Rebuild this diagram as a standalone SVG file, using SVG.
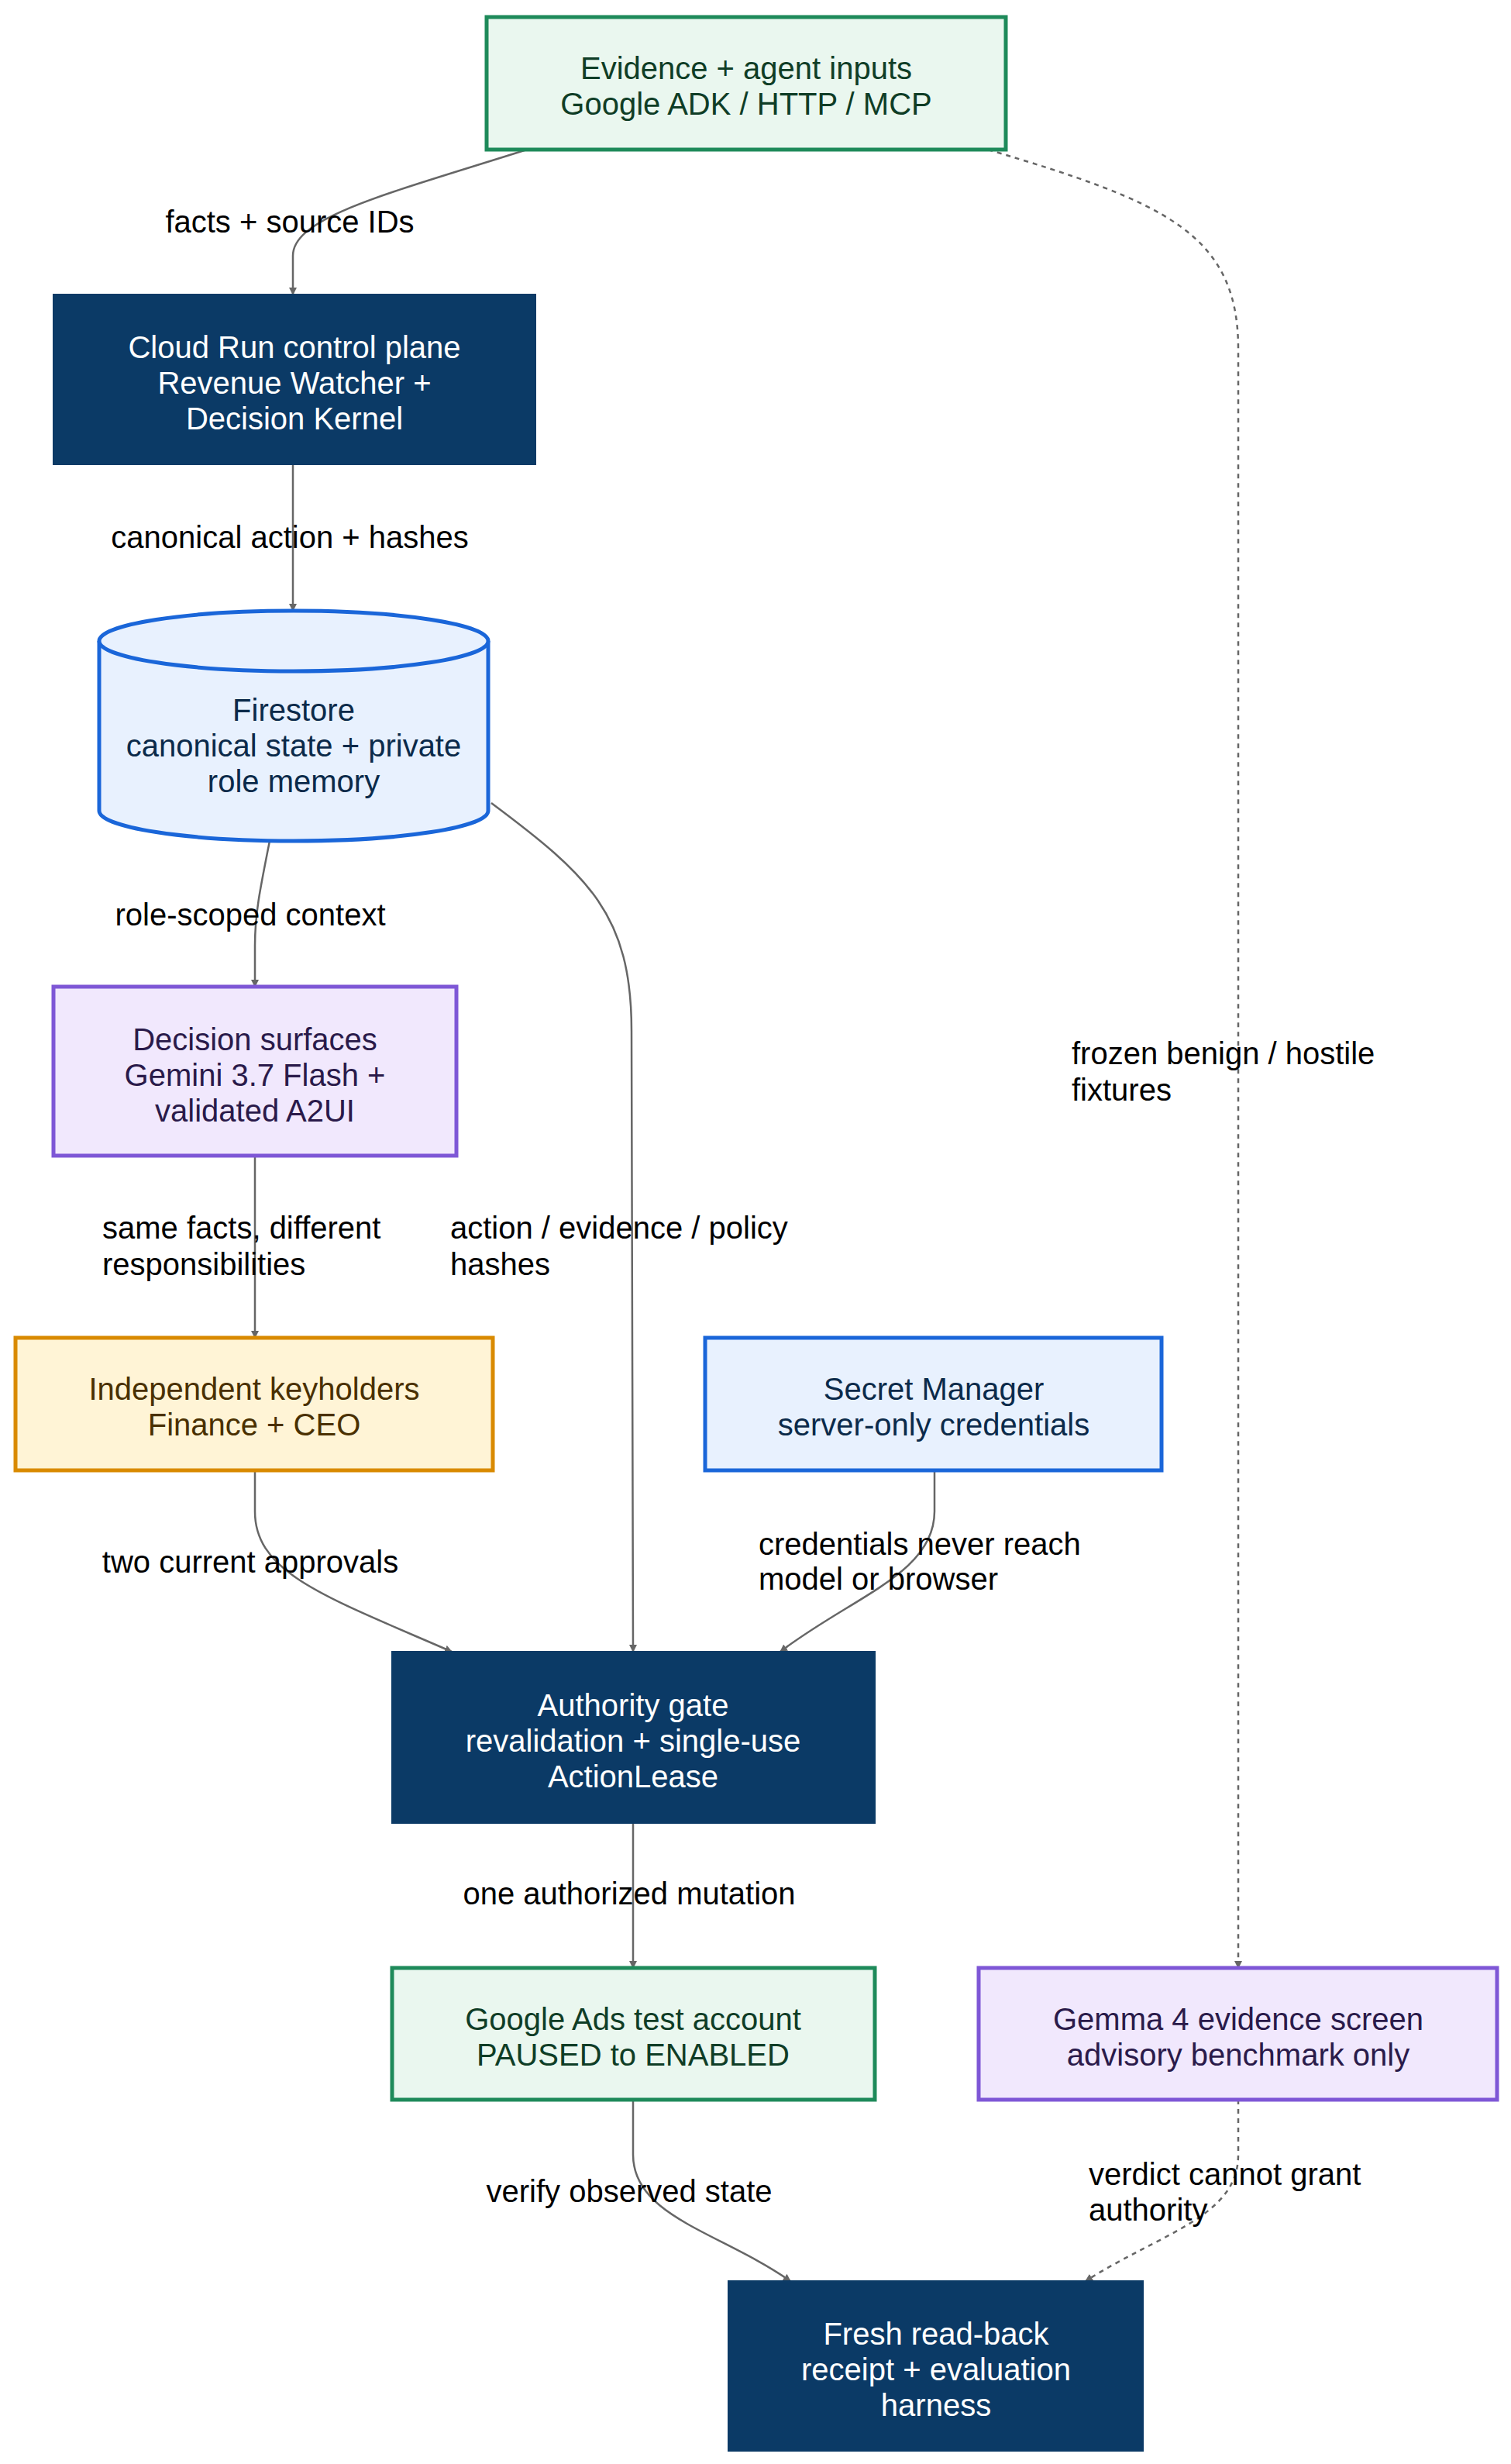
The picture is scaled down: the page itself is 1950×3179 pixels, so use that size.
<svg xmlns="http://www.w3.org/2000/svg" width="1950" height="3179" viewBox="0 0 1950 3179">
<style>
text{font-family:"Liberation Sans",Arial,sans-serif;font-size:40px;text-anchor:middle}
.lbl{fill:#000}
.l{text-anchor:start}
.e{fill:none;stroke:#666;stroke-width:2.5}
.d{stroke-dasharray:6,6}
.green rect{fill:#eaf7ef;stroke:#1e8a5a;stroke-width:5}
.green text{fill:#0f3d26}
.navy rect{fill:#0b3a66;stroke:#0b3a66;stroke-width:2}
.navy text{fill:#fff}
.blue rect,.blue path,.blue ellipse{fill:#e8f1fe;stroke:#1a66d9;stroke-width:5}
.blue text{fill:#0b2a4a}
.purple rect{fill:#f1e8fd;stroke:#7e57d6;stroke-width:5}
.purple text{fill:#2a1a4a}
.yellow rect{fill:#fff4d6;stroke:#d98a00;stroke-width:5}
.yellow text{fill:#4a3000}
</style>
<defs>
<marker id="a" viewBox="0 0 10 10" refX="9" refY="5" markerWidth="10" markerHeight="10" markerUnits="userSpaceOnUse" orient="auto"><path d="M0,0L10,5L0,10z" fill="#666"/></marker>
</defs>
<g id="connectors">
<path class="e" marker-end="url(#a)" d="M680,193 C500,250 378,280 378,330 L378,380"/>
<path class="e" marker-end="url(#a)" d="M378,599 L378,788"/>
<path class="e" marker-end="url(#a)" d="M348,1085 C335,1150 329,1180 329,1220 L329,1273"/>
<path class="e" marker-end="url(#a)" d="M634,1036 C760,1130 815,1180 815,1330 L817,2131"/>
<path class="e" marker-end="url(#a)" d="M329,1491 L329,1726"/>
<path class="e" marker-end="url(#a)" d="M329,1897 L329,1950 C329,2030 420,2060 583,2131"/>
<path class="e" marker-end="url(#a)" d="M1206,1897 L1206,1950 C1206,2030 1100,2060 1007,2131"/>
<path class="e" marker-end="url(#a)" d="M817,2352 L817,2539"/>
<path class="e" marker-end="url(#a)" d="M817,2709 L817,2780 C817,2860 930,2880 1020,2943"/>
<path class="e d" marker-end="url(#a)" d="M1275,193 C1500,260 1598,300 1598,450 L1598,2539"/>
<path class="e d" marker-end="url(#a)" d="M1598,2709 L1598,2780 C1598,2860 1500,2880 1401,2943"/>
</g>
<g id="edge-labels" class="lbl">
<text x="374" y="300">facts + source IDs</text>
<text x="374" y="707">canonical action + hashes</text>
<text x="323" y="1194">role-scoped context</text>
<text class="l" x="1383" y="1373">frozen benign / hostile</text>
<text class="l" x="1383" y="1420">fixtures</text>
<text class="l" x="132" y="1598">same facts, different</text>
<text class="l" x="132" y="1645">responsibilities</text>
<text class="l" x="581" y="1598">action / evidence / policy</text>
<text class="l" x="581" y="1645">hashes</text>
<text x="323" y="2029">two current approvals</text>
<text class="l" x="979" y="2006">credentials never reach</text>
<text class="l" x="979" y="2051">model or browser</text>
<text x="812" y="2457">one authorized mutation</text>
<text x="812" y="2841">verify observed state</text>
<text class="l" x="1405" y="2819">verdict cannot grant</text>
<text class="l" x="1405" y="2865">authority</text>
</g>
<g id="evidence" class="green"><rect x="628" y="22" width="670" height="171"/><text x="963" y="102">Evidence + agent inputs</text><text x="963" y="148">Google ADK / HTTP / MCP</text></g>
<g id="cloudrun" class="navy"><rect x="69" y="380" width="622" height="219"/><text x="380" y="462">Cloud Run control plane</text><text x="380" y="508">Revenue Watcher +</text><text x="380" y="554">Decision Kernel</text></g>
<g id="firestore" class="blue"><path d="M128,827 L128,1046 A251,39 0 0 0 630,1046 L630,827"/><ellipse cx="379" cy="827" rx="251" ry="39"/><text x="379" y="930">Firestore</text><text x="379" y="976">canonical state + private</text><text x="379" y="1022">role memory</text></g>
<g id="decision" class="purple"><rect x="69" y="1273" width="520" height="218"/><text x="329" y="1355">Decision surfaces</text><text x="329" y="1401">Gemini 3.7 Flash +</text><text x="329" y="1447">validated A2UI</text></g>
<g id="keyholders" class="yellow"><rect x="20" y="1726" width="616" height="171"/><text x="328" y="1806">Independent keyholders</text><text x="328" y="1852">Finance + CEO</text></g>
<g id="secret" class="blue"><rect x="910" y="1726" width="589" height="171"/><text x="1205" y="1806">Secret Manager</text><text x="1205" y="1852">server-only credentials</text></g>
<g id="authority" class="navy"><rect x="506" y="2131" width="623" height="221"/><text x="817" y="2214">Authority gate</text><text x="817" y="2260">revalidation + single-use</text><text x="817" y="2306">ActionLease</text></g>
<g id="ads" class="green"><rect x="506" y="2539" width="623" height="170"/><text x="817" y="2619">Google Ads test account</text><text x="817" y="2665">PAUSED to ENABLED</text></g>
<g id="gemma" class="purple"><rect x="1263" y="2539" width="669" height="170"/><text x="1598" y="2619">Gemma 4 evidence screen</text><text x="1598" y="2665">advisory benchmark only</text></g>
<g id="fresh" class="navy"><rect x="940" y="2943" width="535" height="219"/><text x="1208" y="3025">Fresh read-back</text><text x="1208" y="3071">receipt + evaluation</text><text x="1208" y="3117">harness</text></g>
</svg>
